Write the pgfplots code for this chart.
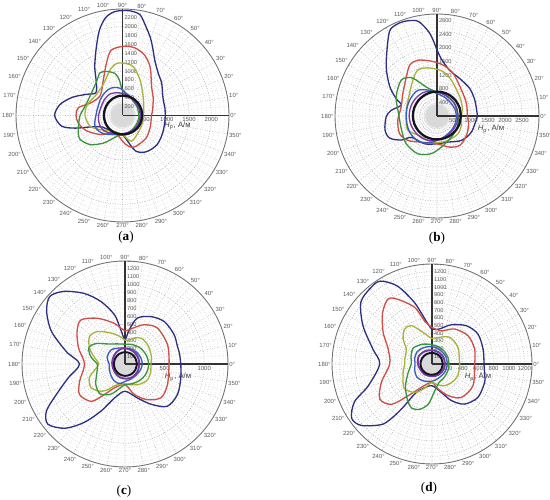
\documentclass[border=0pt]{standalone}
\usepackage{fontspec}
\setmainfont{Liberation Sans}
\newfontfamily\capfont{Liberation Serif}
\usepackage{pgfplots}
\pgfplotsset{compat=1.18}
\usepgfplotslibrary{polar}

\definecolor{cnavy}{RGB}{45,48,128}
\definecolor{cred}{RGB}{206,78,72}
\definecolor{colive}{RGB}{168,178,58}
\definecolor{cgreen}{RGB}{58,148,62}
\definecolor{cblue}{RGB}{55,95,185}
\definecolor{cpurple}{RGB}{118,58,160}
\definecolor{cblack}{RGB}{20,20,35}

\pgfplotsset{
  rosa/.style={
    scale only axis, anchor=center,
    xmin=0, xmax=360, ymin=0,
    xtick={0,10,...,350},
    minor x tick num=1,
    xticklabel={\pgfmathprintnumber[assume math mode=true]{\tick}°},
    xticklabel style={font=\fontsize{3.4}{4}\selectfont, text=black!65, inner sep=0.6pt},
    yticklabel={\pgfmathprintnumber[assume math mode=true,1000 sep={}]{\tick}},
    yticklabel style={font=\fontsize{3.4}{4}\selectfont, text=black!65, anchor=north, inner sep=1pt},
    tick style={draw=none},
    xmajorgrids, xminorgrids, ymajorgrids, yminorgrids,
    major grid style={black!30, densely dotted, line width=0.3pt},
    minor grid style={black!20, densely dotted, line width=0.25pt},
    axis line style={black!55, line width=0.5pt},
    every axis plot/.append style={smooth, line width=0.75pt, mark=none},
  },
}
\tikzset{
  vlab/.style={anchor=west, font=\fontsize{3.2}{4}\selectfont, text=black!65, inner sep=1pt},
  hlab/.style={font=\fontsize{4.4}{5}\selectfont, text=black!75},
  figcap/.style={font=\capfont\fontsize{7.5}{9}\selectfont},
}

\begin{document}
\begin{tikzpicture}
\path[use as bounding box] (0,0) rectangle (11,10);

% ---------------- (a)
\begin{polaraxis}[rosa, at={(2.45cm,7.69cm)}, width=4.26cm, height=4.26cm,
  ymax=2400, ytick={500,1000,1500,2000}, minor ytick={100,200,...,2400}]
\fill[black!15] (axis cs:0,0) circle[radius=0.24cm];
\draw[black!80, line width=0.9pt] (axis cs:0,0) -- (axis cs:0,2400);
\draw[black!80, line width=0.9pt] (axis cs:0,0) -- (axis cs:90,2400);
\pgfplotsinvokeforeach{200,400,...,2200}{\node[vlab] at (axis cs:90,#1) {#1};}
\node[hlab] at (axis cs:-10.7,1260) {\textit{H}\textsubscript{р}, А/м};
\addplot[cnavy] coordinates {(0,965) (10,970) (20,980) (30,1040) (40,1150) (50,1250) (60,1450) (65,1630) (70,1850) (75,2060) (80,2300) (85,2360) (90,2365) (95,2340) (100,2230) (105,2000) (110,1700) (115,1450) (120,1250) (125,1050) (130,910) (140,790) (150,950) (160,1200) (170,1430) (180,1530) (190,1390) (195,1100) (200,750) (210,520) (220,470) (240,430) (260,420) (270,430) (280,560) (290,850) (300,960) (310,1000) (320,1020) (330,1000) (340,980) (350,965) (360,965)};
\addplot[cred] coordinates {(0,651) (10,690) (20,731) (30,800) (45,926) (60,1250) (70,1450) (80,1552) (90,1556) (100,1490) (107,1235) (118,917) (130,730) (140,670) (150,700) (160,790) (170,1010) (180,1047) (190,1009) (203,880) (220,664) (240,460) (255,450) (265,520) (275,640) (285,740) (295,756) (317,735) (339,673) (360,651)};
\addplot[colive] coordinates {(0,464) (20,508) (43,635) (64,897) (78,1132) (90,1182) (97,1175) (105,1071) (122,821) (145,757) (163,830) (180,845) (198,771) (212,598) (239,409) (255,400) (270,426) (289,611) (312,524) (340,478) (360,464)};
\addplot[cgreen] coordinates {(0,370) (30,380) (60,420) (75,480) (90,560) (95,800) (100,960) (110,1057) (118,1085) (127,966) (149,852) (171,892) (180,957) (197,1043) (209,1098) (222,980) (235,763) (245,592) (260,450) (270,430) (285,410) (300,390) (315,378) (330,370) (345,370) (360,370)};
\addplot[cblue] coordinates {(0,420) (20,424) (40,430) (60,450) (80,500) (90,583) (100,640) (112,668) (122,660) (133,640) (146,610) (159,585) (170,588) (180,598) (190,630) (201,665) (210,650) (220,611) (232,540) (244,475) (257,450) (270,440) (285,435) (300,430) (315,425) (330,420) (345,420) (360,420)};
\addplot[cpurple] coordinates {(0,400) (20,402) (40,408) (60,430) (80,480) (100,520) (120,560) (140,540) (160,520) (180,540) (200,555) (220,540) (240,460) (260,420) (280,405) (300,400) (320,398) (340,398) (360,400)};
\addplot[cblack, line width=1.3pt] coordinates {(0,445) (20,447) (40,450) (60,451) (80,450) (100,448) (120,440) (140,430) (160,422) (180,419) (200,420) (220,424) (240,426) (260,426) (280,428) (300,434) (320,440) (340,443) (360,445)};
\end{polaraxis}
\node[figcap] at (2.52,5.26) {(\textbf{a})};

% ---------------- (b)
\begin{polaraxis}[rosa, at={(8.74cm,7.68cm)}, width=4.08cm, height=4.08cm,
  ymax=3000, ytick={500,1000,1500,2000,2500}, minor ytick={100,200,...,3000}]
\fill[black!15] (axis cs:0,0) circle[radius=0.24cm];
\draw[black!80, line width=0.9pt] (axis cs:0,0) -- (axis cs:0,3000);
\draw[black!80, line width=0.9pt] (axis cs:0,0) -- (axis cs:90,3000);
\pgfplotsinvokeforeach{400,800,...,2800}{\node[vlab] at (axis cs:90,#1) {#1};}
\node[hlab] at (axis cs:-13.5,1633) {\textit{H}\textsubscript{р}, А/м};
\addplot[cnavy] coordinates {(0,1190) (22,1204) (40,1257) (59,1289) (75,1400) (86,1697) (90,1950) (95,2440) (101,2830) (107,2930) (112,2950) (118,2900) (123,2650) (136,2078) (148,1639) (157,1305) (163,1100) (173,1358) (181,1496) (195,1583) (205,1537) (214,1264) (220,979) (246,895) (270,817) (293,834) (315,1015) (335,1118) (360,1190)};
\addplot[cred] coordinates {(0,895) (23,940) (46,1045) (69,1336) (83,1506) (96,1622) (109,1735) (118,1700) (128,1464) (147,1200) (166,1085) (186,1158) (205,1218) (220,1118) (239,896) (270,817) (292,988) (308,1094) (327,1037) (345,960) (360,895)};
\addplot[colive] coordinates {(0,718) (20,790) (40,873) (68,1134) (84,1334) (101,1442) (113,1460) (124,1269) (141,1042) (160,935) (175,915) (188,915) (206,954) (230,770) (250,770) (270,780) (294,788) (320,810) (340,760) (360,718)};
\addplot[cgreen] coordinates {(0,620) (35,636) (55,650) (75,680) (90,700) (110,900) (117,1100) (124,1362) (135,1489) (155,1328) (176,1134) (200,1117) (222,1220) (243,1246) (261,1124) (278,924) (304,750) (332,683) (360,620)};
\addplot[cblue] coordinates {(0,570) (20,565) (45,560) (70,600) (90,660) (108,800) (126,940) (138,940) (150,930) (165,915) (180,905) (195,915) (210,935) (223,935) (236,923) (253,830) (270,718) (292,640) (315,600) (338,580) (360,570)};
\addplot[cpurple] coordinates {(0,620) (20,625) (40,632) (60,640) (80,680) (100,740) (120,800) (140,815) (160,820) (180,820) (200,810) (220,795) (240,780) (260,740) (280,690) (300,640) (320,625) (340,620) (360,620)};
\addplot[cblack, line width=1.3pt] coordinates {(0,700) (20,707) (40,713) (60,718) (80,720) (100,719) (120,716) (140,714) (160,712) (180,710) (200,706) (220,701) (240,696) (260,691) (280,690) (300,692) (320,696) (340,698) (360,700)};
\end{polaraxis}
\node[figcap] at (8.74,5.24) {(\textbf{b})};

% ---------------- (c)
\begin{polaraxis}[rosa, at={(2.50cm,2.72cm)}, width=4.12cm, height=4.12cm,
  ymax=1300, ytick={500,1000}, minor ytick={50,100,...,1300}]
\fill[black!15] (axis cs:0,0) circle[radius=0.2cm];
\draw[black!80, line width=0.9pt] (axis cs:0,0) -- (axis cs:0,1300);
\draw[black!80, line width=0.9pt] (axis cs:0,0) -- (axis cs:90,1300);
\pgfplotsinvokeforeach{100,200,...,1300}{\node[vlab] at (axis cs:90,#1) {#1};}
\node[hlab] at (axis cs:-13.8,689) {\textit{H}\textsubscript{р}, А/м};
\addplot[cnavy] coordinates {(0,704) (10,700) (20,700) (31,722) (47,730) (61,683) (75,600) (83,435) (90,310) (97,435) (102,634) (111,843) (120,1028) (130,1196) (138,1276) (146,1193) (156,1017) (168,758) (180,574) (194,742) (204,949) (211,1158) (218,1235) (227,1109) (235,901) (243,667) (253,448) (270,344) (290,456) (303,606) (315,755) (330,766) (346,726) (360,704)};
\addplot[cred] coordinates {(0,557) (24,589) (48,611) (64,551) (78,462) (90,420) (105,532) (121,673) (135,786) (146,730) (161,620) (180,511) (201,614) (214,691) (228,635) (236,465) (246,330) (270,260) (287,402) (302,531) (317,623) (334,596) (360,557)};
\addplot[colive] coordinates {(0,327) (15,345) (33,366) (45,378) (58,384) (70,350) (80,310) (90,300) (100,350) (114,427) (130,535) (142,567) (156,491) (170,380) (180,330) (190,380) (201,482) (215,523) (229,457) (237,380) (245,300) (257,265) (270,250) (285,270) (301,305) (313,328) (325,347) (342,340) (360,327)};
\addplot[cgreen] coordinates {(0,300) (20,292) (45,280) (70,262) (90,250) (110,270) (130,330) (145,450) (155,500) (165,460) (173,400) (180,350) (190,355) (200,380) (215,450) (230,490) (245,420) (260,300) (270,260) (285,262) (300,270) (315,280) (330,290) (345,296) (360,300)};
\addplot[cblue] coordinates {(0,220) (20,215) (45,210) (70,205) (90,200) (110,215) (135,250) (160,240) (180,200) (200,210) (220,230) (235,250) (250,260) (260,245) (270,220) (290,205) (315,200) (340,210) (360,220)};
\addplot[cpurple, line width=1.1pt] coordinates {(0,180) (20,183) (40,187) (60,190) (80,195) (100,200) (125,185) (150,170) (175,163) (200,160) (225,168) (250,180) (275,186) (300,190) (330,185) (360,180)};
\addplot[cblack, line width=1.1pt] coordinates {(0,150) (30,150) (60,151) (90,150) (120,147) (150,143) (180,140) (210,142) (240,146) (270,150) (300,151) (330,150) (360,150)};
\end{polaraxis}
\node[figcap] at (2.48,0.18) {(\textbf{c})};

% ---------------- (d)
\begin{polaraxis}[rosa, at={(8.64cm,2.72cm)}, width=4.00cm, height=4.00cm,
  ymax=1300, ytick={200,400,...,1200}, minor ytick={50,100,...,1300}]
\fill[black!15] (axis cs:0,0) circle[radius=0.2cm];
\draw[black!80, line width=0.9pt] (axis cs:0,0) -- (axis cs:0,1300);
\draw[black!80, line width=0.9pt] (axis cs:0,0) -- (axis cs:90,1300);
\pgfplotsinvokeforeach{100,200,...,1300}{\node[vlab] at (axis cs:90,#1) {#1};}
\node[hlab] at (axis cs:-15.8,621) {\textit{H}\textsubscript{р}, А/м};
\addplot[cnavy] coordinates {(0,676) (16,691) (33,713) (48,669) (64,566) (78,466) (90,455) (98,568) (106,833) (114,1110) (122,1270) (129,1270) (139,1225) (151,1026) (166,791) (180,680) (199,878) (206,1121) (214,1260) (221,1218) (230,1030) (233,900) (236,700) (240,450) (250,340) (270,282) (288,388) (298,539) (309,671) (324,738) (341,725) (348,700) (360,676)};
\addplot[cred] coordinates {(0,555) (19,587) (38,595) (57,542) (74,450) (90,476) (100,571) (107,770) (118,953) (124,1020) (134,925) (147,758) (161,603) (180,550) (200,700) (214,818) (225,741) (233,516) (250,300) (270,240) (284,334) (297,461) (311,577) (332,603) (360,555)};
\addplot[colive] coordinates {(0,360) (33,401) (57,416) (80,347) (90,330) (105,420) (118,565) (128,577) (139,497) (150,386) (170,360) (180,355) (194,385) (207,424) (222,481) (239,432) (250,350) (260,280) (270,238) (285,280) (300,326) (318,352) (336,370) (360,360)};
\addplot[cgreen] coordinates {(0,220) (20,224) (45,230) (70,240) (90,250) (105,268) (120,290) (140,320) (160,290) (180,270) (200,330) (220,450) (235,560) (245,630) (255,610) (265,520) (275,360) (290,260) (305,240) (320,230) (340,224) (360,220)};
\addplot[cblue] coordinates {(0,200) (30,205) (60,210) (80,220) (100,230) (120,240) (140,250) (160,238) (180,220) (200,240) (220,260) (235,252) (250,240) (275,220) (300,200) (330,198) (360,200)};
\addplot[cpurple, line width=1.1pt] coordinates {(0,170) (30,173) (60,176) (90,180) (120,190) (150,200) (175,185) (200,170) (235,165) (270,160) (300,163) (330,167) (360,170)};
\addplot[cblack, line width=1.1pt] coordinates {(0,140) (30,142) (60,144) (90,145) (120,147) (150,149) (180,150) (210,147) (240,143) (270,140) (300,140) (330,140) (360,140)};
\end{polaraxis}
\node[figcap] at (8.58,0.24) {(\textbf{d})};
\end{tikzpicture}
\end{document}
